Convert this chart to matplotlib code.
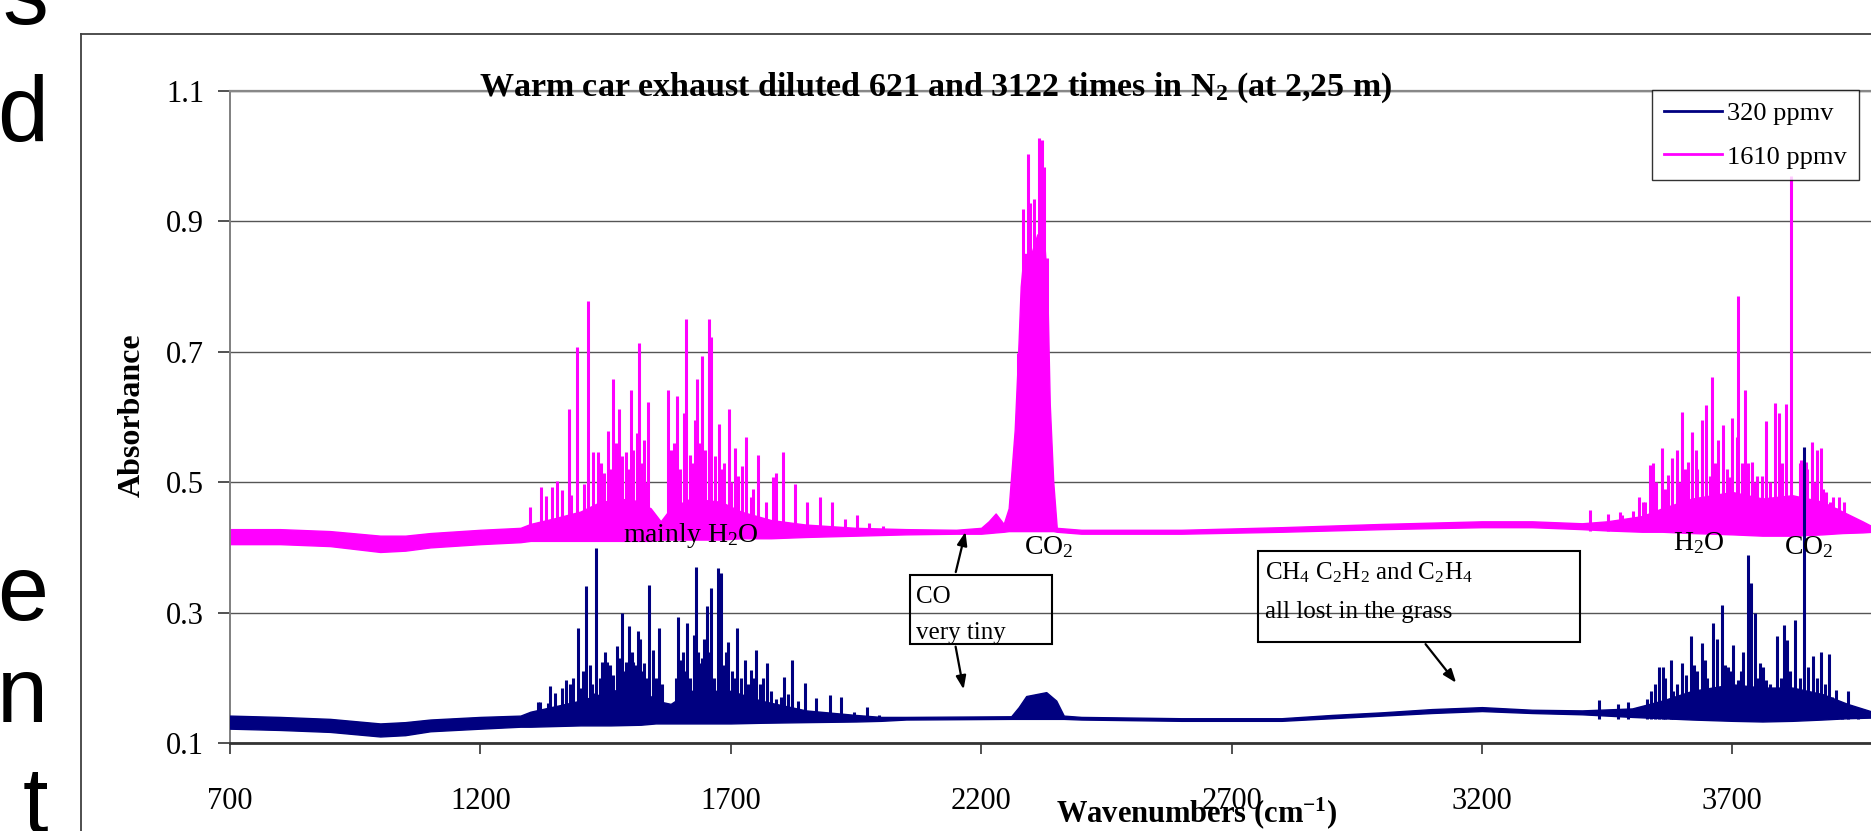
import numpy as np
import matplotlib.pyplot as plt
from matplotlib.lines import Line2D
from matplotlib.patches import Rectangle

plt.rcParams['font.family'] = ['Liberation Serif', 'DejaVu Serif']
plt.rcParams['mathtext.default'] = 'regular'

W, H = 1871, 831

# noisy baseline band of each spectrum: wavenumber, lower edge, upper edge
pink_band_wn = [700, 800, 900, 1000, 1050, 1100, 1200, 1280, 1300, 1350, 1400, 1440, 1500, 1540,
                1560, 1580, 1620, 1680, 1720, 1780, 1850, 1950, 2050, 2150, 2200, 2215, 2229, 2245,
                2255, 2261, 2267, 2274, 2279, 2285, 2300, 2312, 2325, 2332, 2337, 2344, 2351, 2400,
                2600, 2800, 3000, 3200, 3300, 3400, 3450, 3520, 3560, 3620, 3700, 3760, 3820, 3880,
                3920, 3960, 3980]
pink_band_lo = [0.405, 0.405, 0.402, 0.393, 0.395, 0.400, 0.405, 0.408, 0.410, 0.410, 0.410, 0.410,
                0.410, 0.410, 0.412, 0.412, 0.412, 0.412, 0.414, 0.414, 0.416, 0.418, 0.420, 0.421,
                0.421, 0.422, 0.423, 0.424, 0.425, 0.425, 0.425, 0.425, 0.425, 0.425, 0.425, 0.425,
                0.425, 0.425, 0.425, 0.425, 0.424, 0.421, 0.421, 0.424, 0.428, 0.431, 0.431, 0.428,
                0.426, 0.424, 0.424, 0.422, 0.420, 0.418, 0.418, 0.420, 0.422, 0.423, 0.424]
pink_band_hi = [0.428, 0.428, 0.425, 0.418, 0.418, 0.422, 0.427, 0.430, 0.436, 0.445, 0.455, 0.470,
                0.475, 0.460, 0.440, 0.460, 0.475, 0.470, 0.455, 0.442, 0.435, 0.430, 0.428, 0.427,
                0.430, 0.440, 0.452, 0.436, 0.460, 0.520, 0.580, 0.700, 0.800, 0.850, 0.850, 0.880,
                0.880, 0.800, 0.620, 0.500, 0.430, 0.427, 0.427, 0.431, 0.436, 0.440, 0.440, 0.437,
                0.440, 0.448, 0.460, 0.475, 0.485, 0.475, 0.480, 0.470, 0.455, 0.440, 0.432]

blue_band_wn = [700, 800, 900, 1000, 1050, 1100, 1200, 1280, 1300, 1400, 1460, 1520, 1550, 1580,
                1620, 1700, 1760, 1850, 1950, 2000, 2050, 2260, 2275, 2290, 2330, 2350, 2365, 2400,
                2600, 2800, 2900, 3000, 3100, 3200, 3300, 3400, 3500, 3560, 3620, 3700, 3760, 3820,
                3880, 3930, 3980]
blue_band_lo = [0.122, 0.120, 0.117, 0.110, 0.112, 0.118, 0.122, 0.125, 0.125, 0.127, 0.127, 0.128,
                0.130, 0.130, 0.130, 0.130, 0.131, 0.132, 0.133, 0.134, 0.136, 0.137, 0.137, 0.137,
                0.137, 0.137, 0.137, 0.136, 0.134, 0.134, 0.138, 0.142, 0.146, 0.149, 0.146, 0.144,
                0.140, 0.138, 0.136, 0.134, 0.133, 0.134, 0.136, 0.138, 0.139]
blue_band_hi = [0.142, 0.140, 0.137, 0.130, 0.132, 0.136, 0.140, 0.142, 0.148, 0.165, 0.180, 0.185,
                0.165, 0.160, 0.180, 0.180, 0.165, 0.150, 0.143, 0.140, 0.140, 0.141, 0.155, 0.172,
                0.178, 0.165, 0.142, 0.140, 0.138, 0.138, 0.143, 0.147, 0.152, 0.155, 0.151, 0.150,
                0.153, 0.165, 0.180, 0.190, 0.185, 0.185, 0.175, 0.160, 0.148]

# absorption lines rising out of the band: wavenumber and peak absorbance
pink_peak_wn = [1299, 1322, 1331, 1344, 1354, 1362, 1376, 1380, 1393, 1407, 1414, 1425, 1434, 1440,
                1447, 1455, 1460, 1465, 1470, 1477, 1482, 1490, 1495, 1500, 1505, 1512, 1517, 1522,
                1527, 1530, 1535, 1575, 1580, 1586, 1593, 1598, 1606, 1611, 1618, 1622, 1628, 1633,
                1637, 1642, 1648, 1656, 1661, 1668, 1677, 1683, 1687, 1696, 1700, 1709, 1715, 1723,
                1731, 1740, 1745, 1754, 1770, 1785, 1790, 1804, 1829, 1853, 1878, 1902, 1928, 1953,
                1977, 2005,
                2274, 2283, 2293, 2297, 2305, 2315, 2321, 2325, 2331,
                3416, 3451, 3476, 3480, 3502, 3514, 3522, 3525, 3535, 3541, 3548, 3559, 3565, 3572,
                3579, 3589, 3595, 3599, 3605, 3612, 3620, 3628, 3630, 3639, 3647, 3655, 3659, 3665,
                3672, 3682, 3690, 3693, 3700, 3710, 3711, 3720, 3725, 3732, 3740, 3745, 3750, 3760,
                3768, 3775, 3786, 3794, 3795, 3800, 3808, 3818, 3835, 3838, 3847, 3850, 3859, 3865,
                3869, 3877, 3882, 3888, 3895, 3902, 3910, 3914, 3923, 3935, 3943, 3958]
pink_peak_ab = [0.462, 0.493, 0.479, 0.493, 0.502, 0.488, 0.612, 0.480, 0.707, 0.497, 0.778, 0.547,
                0.547, 0.530, 0.514, 0.579, 0.520, 0.659, 0.560, 0.612, 0.540, 0.547, 0.520, 0.642,
                0.550, 0.575, 0.713, 0.530, 0.565, 0.500, 0.623, 0.641, 0.550, 0.560, 0.632, 0.520,
                0.606, 0.751, 0.542, 0.530, 0.595, 0.659, 0.560, 0.694, 0.550, 0.750, 0.723, 0.540,
                0.589, 0.520, 0.530, 0.612, 0.500, 0.552, 0.510, 0.525, 0.569, 0.478, 0.490, 0.542,
                0.470, 0.508, 0.514, 0.547, 0.497, 0.470, 0.477, 0.470, 0.443, 0.450, 0.437, 0.433,
                0.698, 0.919, 1.004, 0.928, 0.934, 1.028, 1.025, 0.983, 0.844,
                0.457, 0.451, 0.455, 0.450, 0.456, 0.478, 0.470, 0.470, 0.526, 0.529, 0.500, 0.553,
                0.490, 0.511, 0.537, 0.549, 0.500, 0.608, 0.520, 0.531, 0.577, 0.549, 0.520, 0.596,
                0.618, 0.510, 0.662, 0.530, 0.564, 0.588, 0.520, 0.508, 0.598, 0.570, 0.785, 0.530,
                0.641, 0.530, 0.531, 0.500, 0.510, 0.510, 0.594, 0.500, 0.621, 0.606, 0.520, 0.530,
                0.620, 0.970, 0.530, 0.534, 0.531, 0.520, 0.561, 0.500, 0.550, 0.553, 0.490, 0.485,
                0.470, 0.478, 0.460, 0.478, 0.470, 0.444, 0.440, 0.437]

blue_peak_wn = [1294, 1316, 1319, 1336, 1340, 1349, 1362, 1371, 1378, 1385, 1394, 1399, 1404, 1411,
                1418, 1422, 1427, 1431, 1438, 1443, 1448, 1452, 1458, 1465, 1473, 1478, 1483, 1487,
                1491, 1497, 1502, 1504, 1508, 1514, 1519, 1524, 1527, 1532, 1537, 1545, 1550, 1557,
                1562, 1590, 1595, 1600, 1605, 1608, 1613, 1618, 1619, 1626, 1630, 1634, 1638, 1642,
                1646, 1650, 1653, 1657, 1661, 1666, 1674, 1680, 1685, 1690, 1695, 1702, 1708, 1713,
                1720, 1728, 1735, 1740, 1745, 1750, 1758, 1765, 1772, 1780, 1790, 1800, 1806, 1815,
                1822, 1835, 1848, 1870, 1898, 1921, 1946, 1973, 1997,
                3434, 3472, 3492, 3529, 3537, 3545, 3554, 3561, 3565, 3577, 3582, 3590, 3600, 3607,
                3617, 3623, 3630, 3639, 3645, 3650, 3662, 3670, 3680, 3685, 3692, 3695, 3702, 3712,
                3718, 3722, 3731, 3737, 3745, 3750, 3755, 3762, 3768, 3775, 3790, 3797, 3803, 3809,
                3815, 3825, 3835, 3843, 3852, 3862, 3870, 3877, 3885, 3894, 3900, 3907, 3920, 3932,
                3952]
blue_peak_ab = [0.143, 0.163, 0.163, 0.161, 0.187, 0.177, 0.184, 0.196, 0.190, 0.200, 0.276, 0.184,
                0.210, 0.341, 0.220, 0.190, 0.176, 0.399, 0.200, 0.225, 0.240, 0.225, 0.220, 0.204,
                0.249, 0.230, 0.300, 0.210, 0.225, 0.279, 0.240, 0.225, 0.220, 0.272, 0.259, 0.210,
                0.223, 0.200, 0.342, 0.243, 0.200, 0.276, 0.190, 0.200, 0.293, 0.228, 0.240, 0.210,
                0.284, 0.200, 0.197, 0.266, 0.370, 0.240, 0.222, 0.230, 0.259, 0.210, 0.310, 0.240,
                0.337, 0.200, 0.369, 0.361, 0.220, 0.240, 0.255, 0.210, 0.200, 0.276, 0.200, 0.228,
                0.190, 0.212, 0.200, 0.242, 0.190, 0.200, 0.222, 0.180, 0.167, 0.170, 0.201, 0.175,
                0.228, 0.165, 0.192, 0.169, 0.174, 0.171, 0.148, 0.155, 0.143,
                0.166, 0.160, 0.163, 0.168, 0.179, 0.190, 0.216, 0.216, 0.200, 0.227, 0.179, 0.190,
                0.222, 0.204, 0.264, 0.220, 0.210, 0.254, 0.227, 0.200, 0.284, 0.260, 0.312, 0.220,
                0.217, 0.210, 0.250, 0.197, 0.210, 0.240, 0.388, 0.345, 0.300, 0.200, 0.222, 0.217,
                0.197, 0.190, 0.264, 0.200, 0.281, 0.258, 0.210, 0.289, 0.200, 0.554, 0.217, 0.233,
                0.200, 0.240, 0.190, 0.237, 0.170, 0.182, 0.160, 0.180, 0.152]

series_labels = ['320 ppmv', '1610 ppmv']
x_ticks = [700, 1200, 1700, 2200, 2700, 3200, 3700]
y_ticks = [0.1, 0.3, 0.5, 0.7, 0.9, 1.1]

BLUE = '#000080'
PINK = '#ff00ff'

fig = plt.figure(figsize=(W / 100, H / 100), dpi=100)
ax = fig.add_axes([230 / W, (H - 743) / H, (W - 230) / W, (743 - 91) / H])

# 1610 ppmv first, 320 ppmv on top
ax.fill_between(pink_band_wn, pink_band_lo, pink_band_hi, color=PINK, lw=1.0, zorder=2)
ax.vlines(pink_peak_wn, 0.425, pink_peak_ab, color=PINK, lw=2.2, zorder=2)
ax.fill_between(blue_band_wn, blue_band_lo, blue_band_hi, color=BLUE, lw=1.0, zorder=3)
ax.vlines(blue_peak_wn, 0.137, blue_peak_ab, color=BLUE, lw=2.2, zorder=3)

ax.set_xlim(700, 3977)
ax.set_ylim(0.1, 1.1)
ax.set_xticks(x_ticks)
ax.set_yticks(y_ticks)
ax.set_yticklabels([f'{v:.1f}' for v in y_ticks])
ax.tick_params(axis='x', labelsize=22, length=8, width=1.2, direction='out', pad=24, colors='#333333')
ax.tick_params(axis='y', labelsize=22, length=8.5, width=1.2, direction='out', pad=10, colors='#333333')
ax.tick_params(labelcolor='black')
ax.grid(axis='y', color='#555555', lw=1.0, zorder=1)
ax.set_axisbelow(True)
ax.spines['right'].set_visible(False)
ax.spines['top'].set_color('#888888')
ax.spines['top'].set_linewidth(1.6)
ax.spines['left'].set_color('#808080')
ax.spines['left'].set_linewidth(1.4)
ax.spines['bottom'].set_color('#333333')
ax.spines['bottom'].set_linewidth(2.0)

ax.set_xlabel(r'Wavenumbers (cm$^{-1}$)', fontsize=22, fontweight='bold')
ax.xaxis.set_label_coords(0.589, -0.08)
ax.set_ylabel('Absorbance', fontsize=23, fontweight='bold')
ax.yaxis.set_label_coords(-0.051, 0.503)

ax.text(0.430, 0.992, r'Warm car exhaust diluted 621 and 3122 times in N$_2$ (at 2,25 m)',
        transform=ax.transAxes, fontsize=24.5, fontweight='bold', ha='center', va='baseline')

# legend
handles = [Line2D([], [], color=BLUE, lw=2), Line2D([], [], color=PINK, lw=2)]
leg = ax.legend(handles, series_labels, loc='upper right', bbox_to_anchor=(1859 / W, 1 - 90 / H),
                bbox_transform=fig.transFigure, borderaxespad=0, fontsize=19, frameon=True,
                fancybox=False, edgecolor='black', handlelength=2.2, handletextpad=0.2,
                borderpad=0.45, labelspacing=0.75)
leg.get_frame().set_linewidth(1.0)
leg.set_zorder(10)

# band labels
ax.text(1620, 0.419, r'mainly H$_2$O', fontsize=20, ha='center', va='center', zorder=5)
ax.text(2335, 0.401, r'CO$_2$', fontsize=20, ha='center', va='center', zorder=5)
ax.text(3633, 0.407, r'H$_2$O', fontsize=20, ha='center', va='center', zorder=5)
ax.text(3853, 0.401, r'CO$_2$', fontsize=20, ha='center', va='center', zorder=5)

# CO call-out
ax.add_patch(Rectangle((2058, 0.252), 283, 0.106, fill=False, ec='black', lw=1.5, zorder=6))
ax.text(2070, 0.324, 'CO', fontsize=18, ha='left', va='center', zorder=6)
ax.text(2070, 0.269, 'very tiny', fontsize=18, ha='left', va='center', zorder=6)
arrow = dict(arrowstyle='-|>,head_length=0.8,head_width=0.3', color='black', lw=1.6)
ax.annotate('', xy=(2170, 0.428), xytext=(2148, 0.358), arrowprops=arrow, zorder=6)
ax.annotate('', xy=(2166, 0.178), xytext=(2148, 0.252), arrowprops=arrow, zorder=6)

# hydrocarbons call-out
ax.add_patch(Rectangle((2753, 0.255), 643, 0.139, fill=False, ec='black', lw=1.5, zorder=6))
ax.text(2767, 0.361, r'CH$_4$ C$_2$H$_2$ and C$_2$H$_4$', fontsize=18, ha='left', va='center', zorder=6)
ax.text(2767, 0.301, 'all lost in the grass', fontsize=18, ha='left', va='center', zorder=6)
ax.annotate('', xy=(3152, 0.189), xytext=(3084, 0.255), arrowprops=arrow, zorder=6)

# chart frame of the pasted screenshot
fig.add_artist(Line2D([81 / W, 81 / W], [0, 1 - 34 / H], color='#404040', lw=1.3))
fig.add_artist(Line2D([81 / W, 1], [1 - 34 / H, 1 - 34 / H], color='#404040', lw=1.3))

# slide text cut off at the left edge
for ch, yb in [('s', 24), ('d', 141), ('e', 620), ('n', 722), ('t', 832)]:
    fig.text(48 / W, 1 - yb / H, ch, fontsize=66, family='Liberation Sans',
             ha='right', va='baseline', color='black')

fig.savefig('out.png', dpi=100)
